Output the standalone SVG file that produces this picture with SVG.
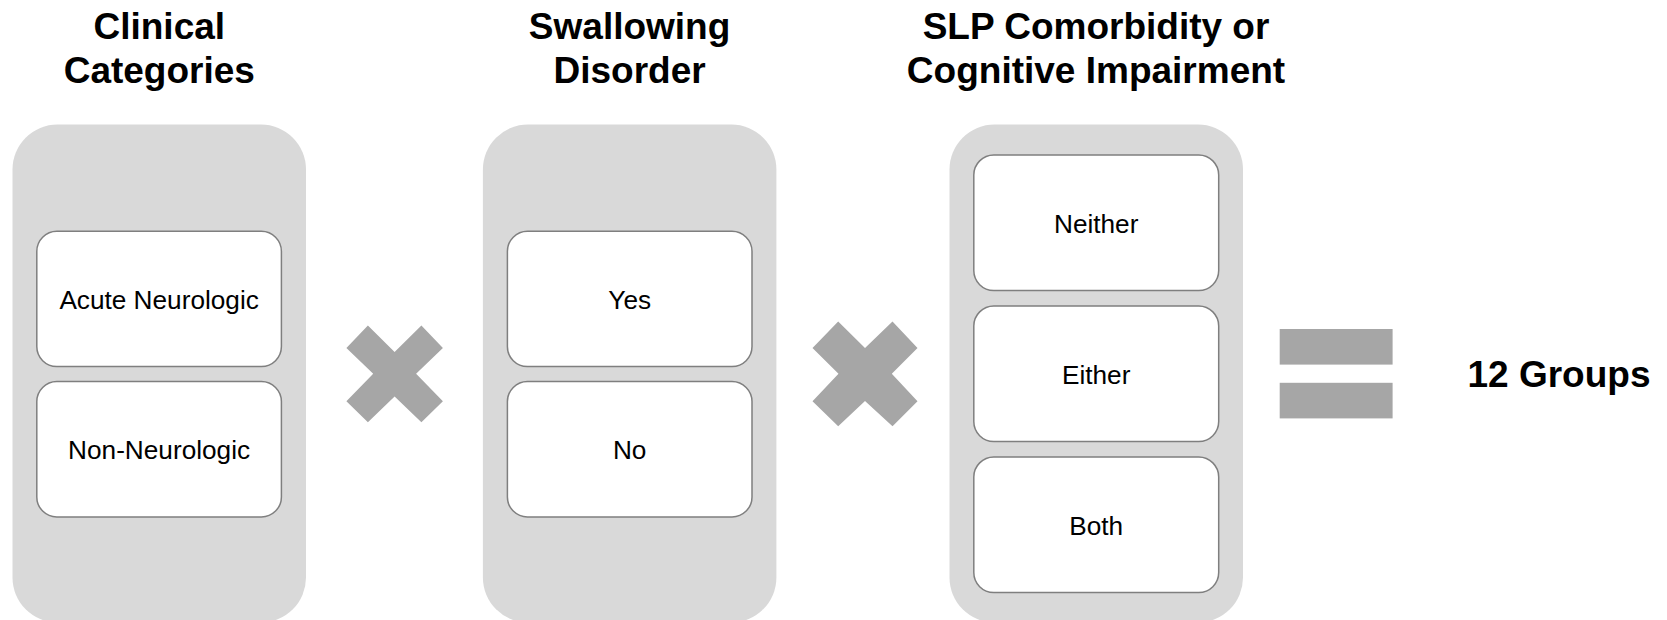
<svg xmlns="http://www.w3.org/2000/svg" width="1667" height="620" viewBox="0 0 1667 620">
<style>
.panel{fill:#d9d9d9;}
.item{fill:#ffffff;stroke:#7f7f7f;stroke-width:1.5;}
.op{fill:#a6a6a6;}
.title{font-family:"Liberation Sans",Arial,sans-serif;font-weight:bold;font-size:37px;fill:#000;text-anchor:middle;}
.label{font-family:"Liberation Sans",Arial,sans-serif;font-size:26.2px;fill:#000;text-anchor:middle;}
</style>
<rect width="1667" height="620" fill="#ffffff"/>
<g id="clinical-categories">
<text class="title" x="159.3" y="39.3">Clinical</text>
<text class="title" x="159.3" y="82.7">Categories</text>
<rect class="panel" x="12.5" y="124.5" width="293.5" height="498" rx="45" ry="45"/>
<g id="acute-neurologic">
<rect class="item" x="36.8" y="231.3" width="244.6" height="135.3" rx="20" ry="20"/>
<text class="label" x="159.1" y="308.5">Acute Neurologic</text>
</g>
<g id="non-neurologic">
<rect class="item" x="36.8" y="381.6" width="244.6" height="135.3" rx="20" ry="20"/>
<text class="label" x="159.1" y="458.8">Non-Neurologic</text>
</g>
</g>
<g id="times-1">
<polygon class="op" points="346.4,348 367.9,325.4 394.6,351.9 421.4,325.4 442.9,348 416.1,373.7 442.9,401.3 421.4,422.3 394.6,396.6 367.9,422.3 346.4,401.3 373.2,373.7"/>
</g>
<g id="swallowing-disorder">
<text class="title" x="629.6" y="39.3">Swallowing</text>
<text class="title" x="629.6" y="82.7">Disorder</text>
<rect class="panel" x="482.9" y="124.5" width="293.5" height="498" rx="45" ry="45"/>
<g id="yes">
<rect class="item" x="507.4" y="231.3" width="244.6" height="135.3" rx="20" ry="20"/>
<text class="label" x="629.7" y="308.5">Yes</text>
</g>
<g id="no">
<rect class="item" x="507.4" y="381.6" width="244.6" height="135.3" rx="20" ry="20"/>
<text class="label" x="629.7" y="458.8">No</text>
</g>
</g>
<g id="times-2">
<polygon class="op" points="812.5,348 838.2,321.5 865,348 892.5,321.5 917.5,348 891.8,373.7 917.5,401.3 892.5,426.2 865,401 838.2,426.2 812.5,401.3 838.5,373.7"/>
</g>
<g id="slp-comorbidity">
<text class="title" x="1096" y="39.3">SLP Comorbidity or</text>
<text class="title" x="1096" y="82.7">Cognitive Impairment</text>
<rect class="panel" x="949.5" y="124.5" width="293.5" height="498" rx="45" ry="45"/>
<g id="neither">
<rect class="item" x="973.8" y="155" width="244.9" height="135.6" rx="20" ry="20"/>
<text class="label" x="1096.2" y="232.8">Neither</text>
</g>
<g id="either">
<rect class="item" x="973.8" y="306" width="244.9" height="135.6" rx="20" ry="20"/>
<text class="label" x="1096.2" y="383.8">Either</text>
</g>
<g id="both">
<rect class="item" x="973.8" y="457" width="244.9" height="135.6" rx="20" ry="20"/>
<text class="label" x="1096.2" y="534.8">Both</text>
</g>
</g>
<g id="equals">
<rect class="op" x="1279.7" y="329" width="112.9" height="35.6"/>
<rect class="op" x="1279.7" y="382.8" width="112.9" height="35.6"/>
</g>
<g id="result">
<text class="title" x="1559" y="386.6">12 Groups</text>
</g>
<g id="connectors"></g>
</svg>
